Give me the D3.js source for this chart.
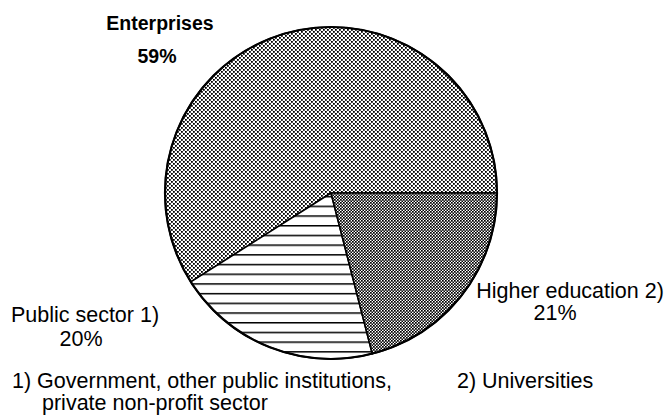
<!DOCTYPE html>
<html>
<head>
<meta charset="utf-8">
<script src="https://cdn.jsdelivr.net/npm/d3@7"></script>
<style>
    body { margin: 0; background: #fff; }
    svg { display: block; font-family: "Liberation Sans", Arial, sans-serif; }
</style>
</head>
<body>
<div class="chart"></div>
<script>
const sectors = ["Enterprises", "Public sector 1)", "Higher education 2)"];
const shares = [59, 20, 21];
const shareLabels = ["59%", "20%", "21%"];
const footnotes = ["1) Government, other public institutions,", "private non-profit sector", "2) Universities"];

const width = 668, height = 417;
const cx = 331, cy = 193, radius = 166;

const svg = d3.select(".chart").append("svg")
    .attr("width", width)
    .attr("height", height);

// fill patterns, like the scanned print
const defs = svg.append("defs");

const light = defs.append("pattern")
    .attr("id", "dotsLight")
    .attr("patternUnits", "userSpaceOnUse")
    .attr("width", 4).attr("height", 4);
light.append("rect").attr("width", 4).attr("height", 4).attr("fill", "#fff");
light.append("rect").attr("x", 0).attr("y", 0).attr("width", 1.8).attr("height", 1.8).attr("fill", "#000");
light.append("rect").attr("x", 2).attr("y", 2).attr("width", 1.8).attr("height", 1.8).attr("fill", "#000");

const dense = defs.append("pattern")
    .attr("id", "dotsDense")
    .attr("patternUnits", "userSpaceOnUse")
    .attr("width", 3).attr("height", 3);
dense.append("rect").attr("width", 3).attr("height", 3).attr("fill", "#fff");
dense.append("rect").attr("x", 0).attr("y", 0).attr("width", 1.7).attr("height", 1.7).attr("fill", "#000");
dense.append("rect").attr("x", 1.5).attr("y", 1.5).attr("width", 1.5).attr("height", 1.5).attr("fill", "#000");

const hatch = defs.append("pattern")
    .attr("id", "hLines")
    .attr("patternUnits", "userSpaceOnUse")
    .attr("y", 226)
    .attr("width", 10).attr("height", 9.7);
hatch.append("rect").attr("width", 10).attr("height", 9.7).attr("fill", "#fff");
hatch.append("rect").attr("y", 0).attr("width", 10).attr("height", 1.5).attr("fill", "#000");

const fills = ["url(#dotsLight)", "url(#hLines)", "url(#dotsDense)"];

// start at 3 o'clock and go counterclockwise
const pie = d3.pie()
    .sort(null)
    .startAngle(Math.PI / 2)
    .endAngle(Math.PI / 2 - 2 * Math.PI);

const arc = d3.arc().innerRadius(0).outerRadius(radius);

const g = svg.append("g").attr("transform", `translate(${cx},${cy})`);

g.selectAll("path.slice")
    .data(pie(shares))
    .join("path")
    .attr("class", "slice")
    .attr("d", arc)
    .attr("fill", (d, i) => fills[i])
    .attr("stroke", "#000")
    .attr("stroke-width", 1.6)
    .attr("stroke-linejoin", "round");

g.append("circle")
    .attr("r", radius)
    .attr("fill", "none")
    .attr("stroke", "#000")
    .attr("stroke-width", 2.2);

// labels
const labelPos = [
    { x: 160, y: 30, x2: 157, y2: 63, bold: true, size: 19.5 },
    { x: 85, y: 322, x2: 81, y2: 346, bold: false, size: 21.5 },
    { x: 570, y: 298, x2: 555, y2: 320, bold: false, size: 21.5 }
];

sectors.forEach((name, i) => {
    const p = labelPos[i];
    const t = svg.append("text")
        .attr("text-anchor", "middle")
        .attr("font-size", p.size + "px")
        .attr("font-weight", p.bold ? 700 : 400)
        .attr("fill", "#000");
    t.append("tspan").attr("x", p.x).attr("y", p.y).text(name);
    t.append("tspan").attr("x", p.x2).attr("y", p.y2).text(shareLabels[i]);
});

// footnotes
svg.append("text").attr("x", 12).attr("y", 388).attr("font-size", "21.5px").text(footnotes[0]);
svg.append("text").attr("x", 42).attr("y", 410).attr("font-size", "21.5px").text(footnotes[1]);
svg.append("text").attr("x", 457).attr("y", 388).attr("font-size", "21.5px").text(footnotes[2]);
</script>
</body>
</html>
